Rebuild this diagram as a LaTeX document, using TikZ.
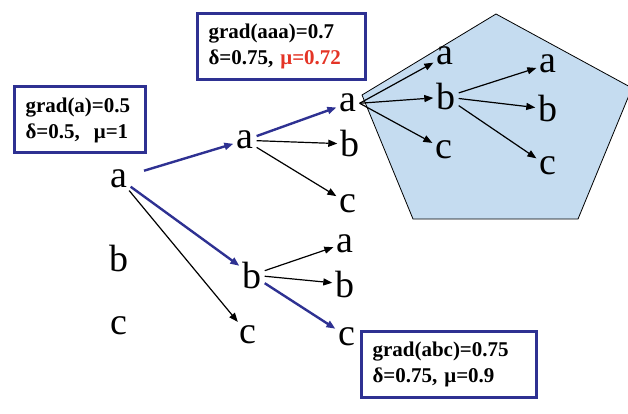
\documentclass[tikz,border=0pt]{standalone}
\usepackage{fontspec}
\setmainfont{Liberation Serif}
\usetikzlibrary{arrows.meta}
\definecolor{navyb}{RGB}{46,49,146}
\definecolor{redmu}{RGB}{228,52,38}
\definecolor{pentblue}{RGB}{197,220,240}
\begin{document}
\begin{tikzpicture}[x=1pt, y=-1pt,
    letterS/.style={anchor=base, inner sep=3pt, font=\fontsize{38}{38}\selectfont},
    boxS/.style={draw=navyb, line width=3pt, inner xsep=11pt, align=left,
        minimum height=66pt, font=\bfseries\fontsize{21}{26}\selectfont},
    arrS/.style={-{Triangle[length=9pt,width=7pt]}, line width=1.2pt},
    bestS/.style={arrS, navyb, line width=2.4pt},
]
\useasboundingbox (0,0) rectangle (628,414);
% pentagon round the expanded subtree
\draw[fill=pentblue, line width=0.8pt] (496,14) -- (632,88) -- (578,219) -- (413,219) -- (362,95) -- cycle;
% first level
\node[letterS] (a) at (119,187) {a};
\node[letterS] (b) at (119,271) {b};
\node[letterS] (c) at (119,334) {c};
% second level
\node[letterS] (aa) at (245,149) {a};
\node[letterS] (ab) at (252,288) {b};
\node[letterS] (ac) at (248,343) {c};
% third level
\node[letterS] (aaa) at (348,112) {a};
\node[letterS] (aab) at (350,157) {b};
\node[letterS] (aac) at (348,212) {c};
\node[letterS] (aba) at (345,252) {a};
\node[letterS] (abb) at (345,297) {b};
\node[letterS] (abc) at (347,345) {c};
% inside the pentagon
\node[letterS] (aaaa) at (445,65) {a};
\node[letterS] (aaab) at (446,110) {b};
\node[letterS] (aaac) at (444,158) {c};
\node[letterS] (aaaba) at (548,73) {a};
\node[letterS] (aaabb) at (548,122) {b};
\node[letterS] (aaabc) at (548,175) {c};
% arrows
\draw[bestS, shorten <=14pt] (a) -- (aa);
\draw[bestS] (a) -- (ab);
\draw[arrS] (a) -- (ac);
\draw[bestS] (aa) -- (aaa);
\draw[arrS] (aa) -- (aab);
\draw[arrS] (aa) -- (aac);
\draw[arrS] (ab) -- (aba);
\draw[arrS] (ab) -- (abb);
\draw[bestS] (ab) -- (abc);
\draw[arrS] (aaa.east) -- (aaaa);
\draw[arrS] (aaa.east) -- (aaab);
\draw[arrS] (aaa.east) -- (aaac);
\draw[arrS] (aaab) -- (aaaba);
\draw[arrS] (aaab) -- (aaabb);
\draw[arrS] (aaab) -- (aaabc);
% score boxes
\node[boxS, text width=109pt] (boxa) at (80,120) {grad(a)=0.5\\δ=0.5,\ \ μ=1};
\node[boxS, text width=146pt] (boxaaa) at (281.5,46.5) {grad(aaa)=0.7\\δ=0.75, \textcolor{redmu}{μ=0.72}};
\node[boxS, text width=153pt] (boxabc) at (449,364) {grad(abc)=0.75\\δ=0.75, μ=0.9};
\end{tikzpicture}
\end{document}
